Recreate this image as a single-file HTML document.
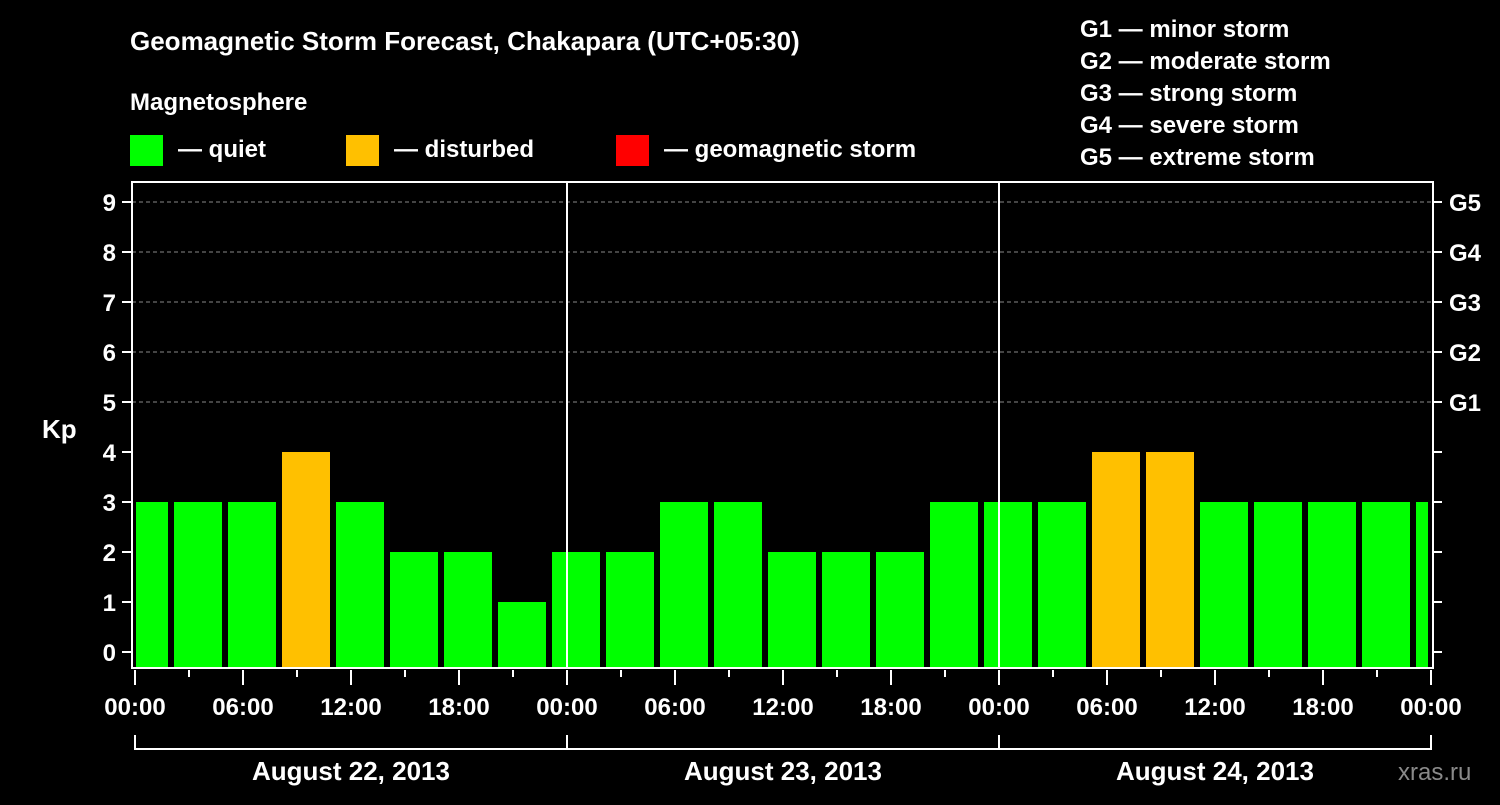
<!DOCTYPE html>
<html><head><meta charset="utf-8"><style>
body{margin:0;background:#000;width:1500px;height:800px;overflow:hidden}
svg text{font-family:"Liberation Sans",sans-serif;font-weight:bold;fill:#fff}
</style></head><body>
<svg id="c" width="1500" height="800">
<text x="130" y="50" font-size="26">Geomagnetic Storm Forecast, Chakapara (UTC+05:30)</text>
<text x="130" y="110" font-size="24">Magnetosphere</text>
<g><rect x="130" y="135" width="33" height="31" fill="#00ff00"/><text x="178" y="157" font-size="24">— quiet</text></g>
<g><rect x="346" y="135" width="33" height="31" fill="#ffc000"/><text x="394" y="157" font-size="24">— disturbed</text></g>
<g><rect x="616" y="135" width="33" height="31" fill="#ff0000"/><text x="664" y="157" font-size="24">— geomagnetic storm</text></g>
<g font-size="24">
<text x="1080" y="37">G1 — minor storm</text>
<text x="1080" y="69">G2 — moderate storm</text>
<text x="1080" y="101">G3 — strong storm</text>
<text x="1080" y="133">G4 — severe storm</text>
<text x="1080" y="165">G5 — extreme storm</text>
</g>
<text x="42" y="438" font-size="26">Kp</text>
<text x="1398" y="780" font-size="24" fill="#888" style="fill:#8a8a8a;font-weight:normal">xras.ru</text>
<g id="grid"></g><g id="bars"></g><g id="axes"></g>
</svg>
<script>
const kpValues=[3,3,3,4,3,2,2,1,2,2,3,3,2,2,2,3,3,3,4,4,3,3,3,3,3];
const dayLabels=["August 22, 2013","August 23, 2013","August 24, 2013"];
const hourLabels=["00:00","06:00","12:00","18:00"];
const yTicks=[0,1,2,3,4,5,6,7,8,9];
const gLabels=["G1","G2","G3","G4","G5"];
const NS="http://www.w3.org/2000/svg";
const L=132,R=1433,T=182,B=668,X0=135,DAY=432;
const y=v=>652-v*50;
const x=h=>X0+h*18;
function mk(t,a,p){const e=document.createElementNS(NS,t);for(const k in a)e.setAttribute(k,a[k]);if(p)p.appendChild(e);return e;}
const grid=document.getElementById('grid'),bars=document.getElementById('bars'),axes=document.getElementById('axes');
yTicks.forEach(v=>{
 if(v>=5){const g=mk('line',{x1:L,x2:R,y1:y(v),y2:y(v),stroke:'#888','stroke-dasharray':'4,3','stroke-width':1},grid);
 
 }
 mk('line',{x1:122,x2:L,y1:y(v),y2:y(v),stroke:'#fff','stroke-width':2},axes);
 mk('line',{x1:R,x2:R+9,y1:y(v),y2:y(v),stroke:'#fff','stroke-width':2},axes);
 const t=mk('text',{x:116,y:y(v)+9,'font-size':24,'text-anchor':'end'},axes);t.textContent=v;
 
 
});
gLabels.forEach((g,i)=>{const t=mk('text',{x:1449,y:y(5+i)+9,'font-size':24},axes);t.textContent=g;
 
 });
kpValues.forEach((v,i)=>{
 let s=x(2)+54*i-54+3, e=s+48;
 s=Math.max(s,L+4); e=Math.min(e,R-5);
 const r=mk('rect',{x:s,y:y(v),width:e-s,height:B-y(v),fill:v>=5?'#ff0000':v>=4?'#ffc000':'#00ff00'},bars);
 
 
});
mk('rect',{x:L,y:T,width:R-L,height:B-T,fill:'none',stroke:'#fff','stroke-width':2},axes);
for(let d=1;d<3;d++)mk('line',{x1:x(24*d),x2:x(24*d),y1:T,y2:B,stroke:'#fff','stroke-width':2},axes);
for(let h=0;h<=72;h+=3){mk('line',{x1:x(h),x2:x(h),y1:B+2,y2:B+(h%6?9:17),stroke:'#fff','stroke-width':2},axes);}
for(let h=0;h<=72;h+=6){const t=mk('text',{x:x(h),y:715,'font-size':24,'text-anchor':'middle'},axes);t.textContent=hourLabels[(h/6)%4];
 
 }
mk('path',{d:`M${x(0)} 735V749H${x(72)}V735`,fill:'none',stroke:'#fff','stroke-width':2},axes);
dayLabels.forEach((d,i)=>{mk('line',{x1:x(24*i),x2:x(24*i),y1:735,y2:749,stroke:'#fff','stroke-width':2},axes);
 const t=mk('text',{x:x(24*i+12),y:780,'font-size':26,'text-anchor':'middle'},axes);t.textContent=d;
 
 });
</script>
</body></html>
